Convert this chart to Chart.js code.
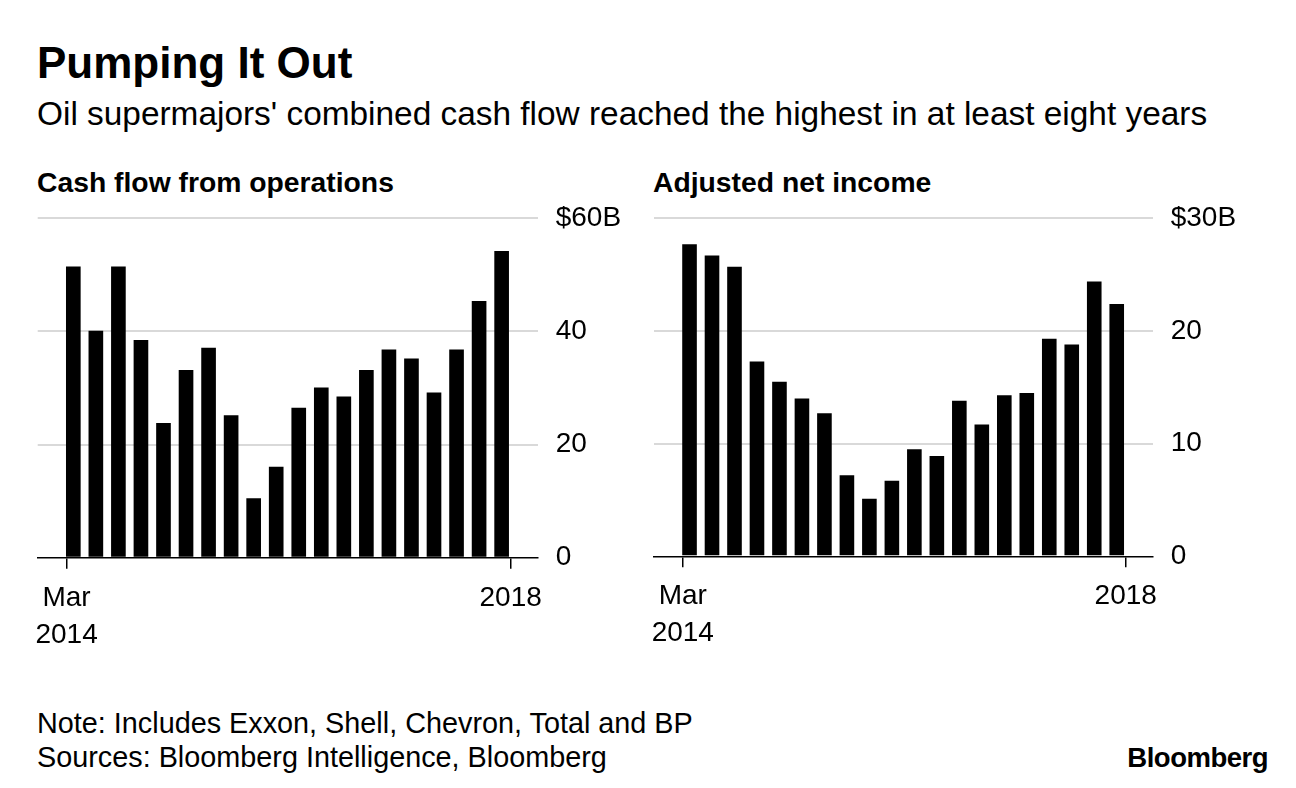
<!DOCTYPE html>
<html>
<head>
<meta charset="utf-8">
<script src="https://cdn.jsdelivr.net/npm/chart.js@4.4.1/dist/chart.umd.min.js"></script>
<style>
  body {
    margin: 0;
    width: 1296px;
    height: 788px;
    background: #fff;
    position: relative;
    overflow: hidden;
    font-family: "Liberation Sans", Arial, sans-serif;
    color: #000;
  }
  .txt { position: absolute; white-space: nowrap; line-height: 1; }
  #title { left: 37px; top: 41px; font-size: 44px; font-weight: bold; }
  #subtitle { left: 37px; top: 97px; font-size: 33.4px; }
  .panel-title { top: 168px; font-size: 28.3px; font-weight: bold; }
  .note { left: 37px; font-size: 28.8px; }
  #logo { right: 28px; top: 744px; font-size: 27.5px; font-weight: bold; letter-spacing: -0.5px; }
  canvas { position: absolute; top: 190px; }
</style>
</head>
<body>

<div id="title" class="txt">Pumping It Out</div>
<div id="subtitle" class="txt">Oil supermajors' combined cash flow reached the highest in at least eight years</div>
<div class="txt panel-title" style="left:37px">Cash flow from operations</div>
<div class="txt panel-title" style="left:653px">Adjusted net income</div>
<div class="txt note" style="top:709px">Note: Includes Exxon, Shell, Chevron, Total and BP</div>
<div class="txt note" style="top:743px">Sources: Bloomberg Intelligence, Bloomberg</div>
<div id="logo" class="txt">Bloomberg</div>

<canvas id="cashChart" width="648" height="480" style="left:0px"></canvas>
<canvas id="incomeChart" width="648" height="480" style="left:648px"></canvas>

<script>
// quarterly figures, in billions of dollars
const quarters = [
    'Mar 2014', 'Jun 2014', 'Sep 2014', 'Dec 2014',
    'Mar 2015', 'Jun 2015', 'Sep 2015', 'Dec 2015',
    'Mar 2016', 'Jun 2016', 'Sep 2016', 'Dec 2016',
    'Mar 2017', 'Jun 2017', 'Sep 2017', 'Dec 2017',
    'Mar 2018', 'Jun 2018', 'Sep 2018', 'Dec 2018'
];
const cashFlow = [51.5, 40.1, 51.5, 38.5, 23.8, 33.2, 37.1, 25.2, 10.5, 16.1,
                  26.5, 30.1, 28.5, 33.2, 36.8, 35.2, 29.2, 36.8, 45.4, 54.2];
const netIncome = [27.7, 26.7, 25.7, 17.3, 15.5, 14.0, 12.7, 7.2, 5.1, 6.7,
                   9.5, 8.9, 13.8, 11.7, 14.3, 14.5, 19.3, 18.8, 24.4, 22.4];

const cashTicks = [0, 20, 40, 60];
const cashTickLabels = ['0', '20', '40', '$60B'];
const incomeTicks = [0, 10, 20, 30];
const incomeTickLabels = ['0', '10', '20', '$30B'];

// x ticks sit on the outer edges of the first and last bar
const xTickPos = [-0.3, 19.4];
const xTickLabels = [['Mar', '2014'], '2018'];

const FONT = '"Liberation Sans", Arial, sans-serif';
Chart.defaults.font.family = FONT;
Chart.defaults.color = '#000';

function buildChart(canvasId, values, yTicks, yLabels, box) {
    const points = values.map((v, i) => ({ x: i, y: v }));

    return new Chart(document.getElementById(canvasId), {
        type: 'bar',
        data: {
            labels: quarters,
            datasets: [{
                data: points,
                backgroundColor: '#000',
                borderWidth: 0,
                barPercentage: 0.65,
                categoryPercentage: 1.0
            }]
        },
        options: {
            responsive: false,
            animation: false,
            devicePixelRatio: 1,
            layout: { padding: { left: box.left, top: box.top, right: 0, bottom: 0 } },
            plugins: {
                legend: { display: false },
                tooltip: { enabled: false }
            },
            scales: {
                x: {
                    type: 'linear',
                    offset: false,
                    min: -1.58,
                    max: 20.6,
                    afterBuildTicks: s => { s.ticks = xTickPos.map(v => ({ value: v })); },
                    afterFit: s => {
                        s.height = box.xHeight;
                        s.paddingLeft = 0;
                        s.paddingRight = 0;
                    },
                    grid: {
                        offset: false,
                        drawOnChartArea: false,
                        drawTicks: true,
                        tickLength: 11,
                        color: '#000',
                        lineWidth: 1.5
                    },
                    border: { display: true, color: '#000', width: 1.5 },
                    ticks: {
                        callback: (v, i) => xTickLabels[i],
                        autoSkip: false,
                        maxRotation: 0,
                        padding: 11,
                        color: '#000',
                        font: { size: 28, lineHeight: 1.32 }
                    }
                },
                y: {
                    position: 'right',
                    min: 0,
                    max: yTicks[yTicks.length - 1],
                    afterBuildTicks: s => { s.ticks = yTicks.map(v => ({ value: v })); },
                    afterFit: s => {
                        s.width = box.yWidth;
                        s.paddingTop = 0;
                        s.paddingBottom = 0;
                    },
                    grid: {
                        drawTicks: false,
                        color: ctx => (ctx.tick && ctx.tick.value === 0) ? 'rgba(0,0,0,0)' : '#d9d9d9',
                        lineWidth: 2
                    },
                    border: { display: false },
                    ticks: {
                        callback: (v, i) => yLabels[i],
                        padding: 18,
                        color: '#000',
                        font: { size: 28 }
                    }
                }
            }
        }
    });
}

buildChart('cashChart', cashFlow, cashTicks, cashTickLabels,
    { left: 37.7, top: 28.3, yWidth: 110.3, xHeight: 112.3 });
buildChart('incomeChart', netIncome, incomeTicks, incomeTickLabels,
    { left: 6, top: 28.3, yWidth: 143.3, xHeight: 113.7 });
</script>
</body>
</html>
